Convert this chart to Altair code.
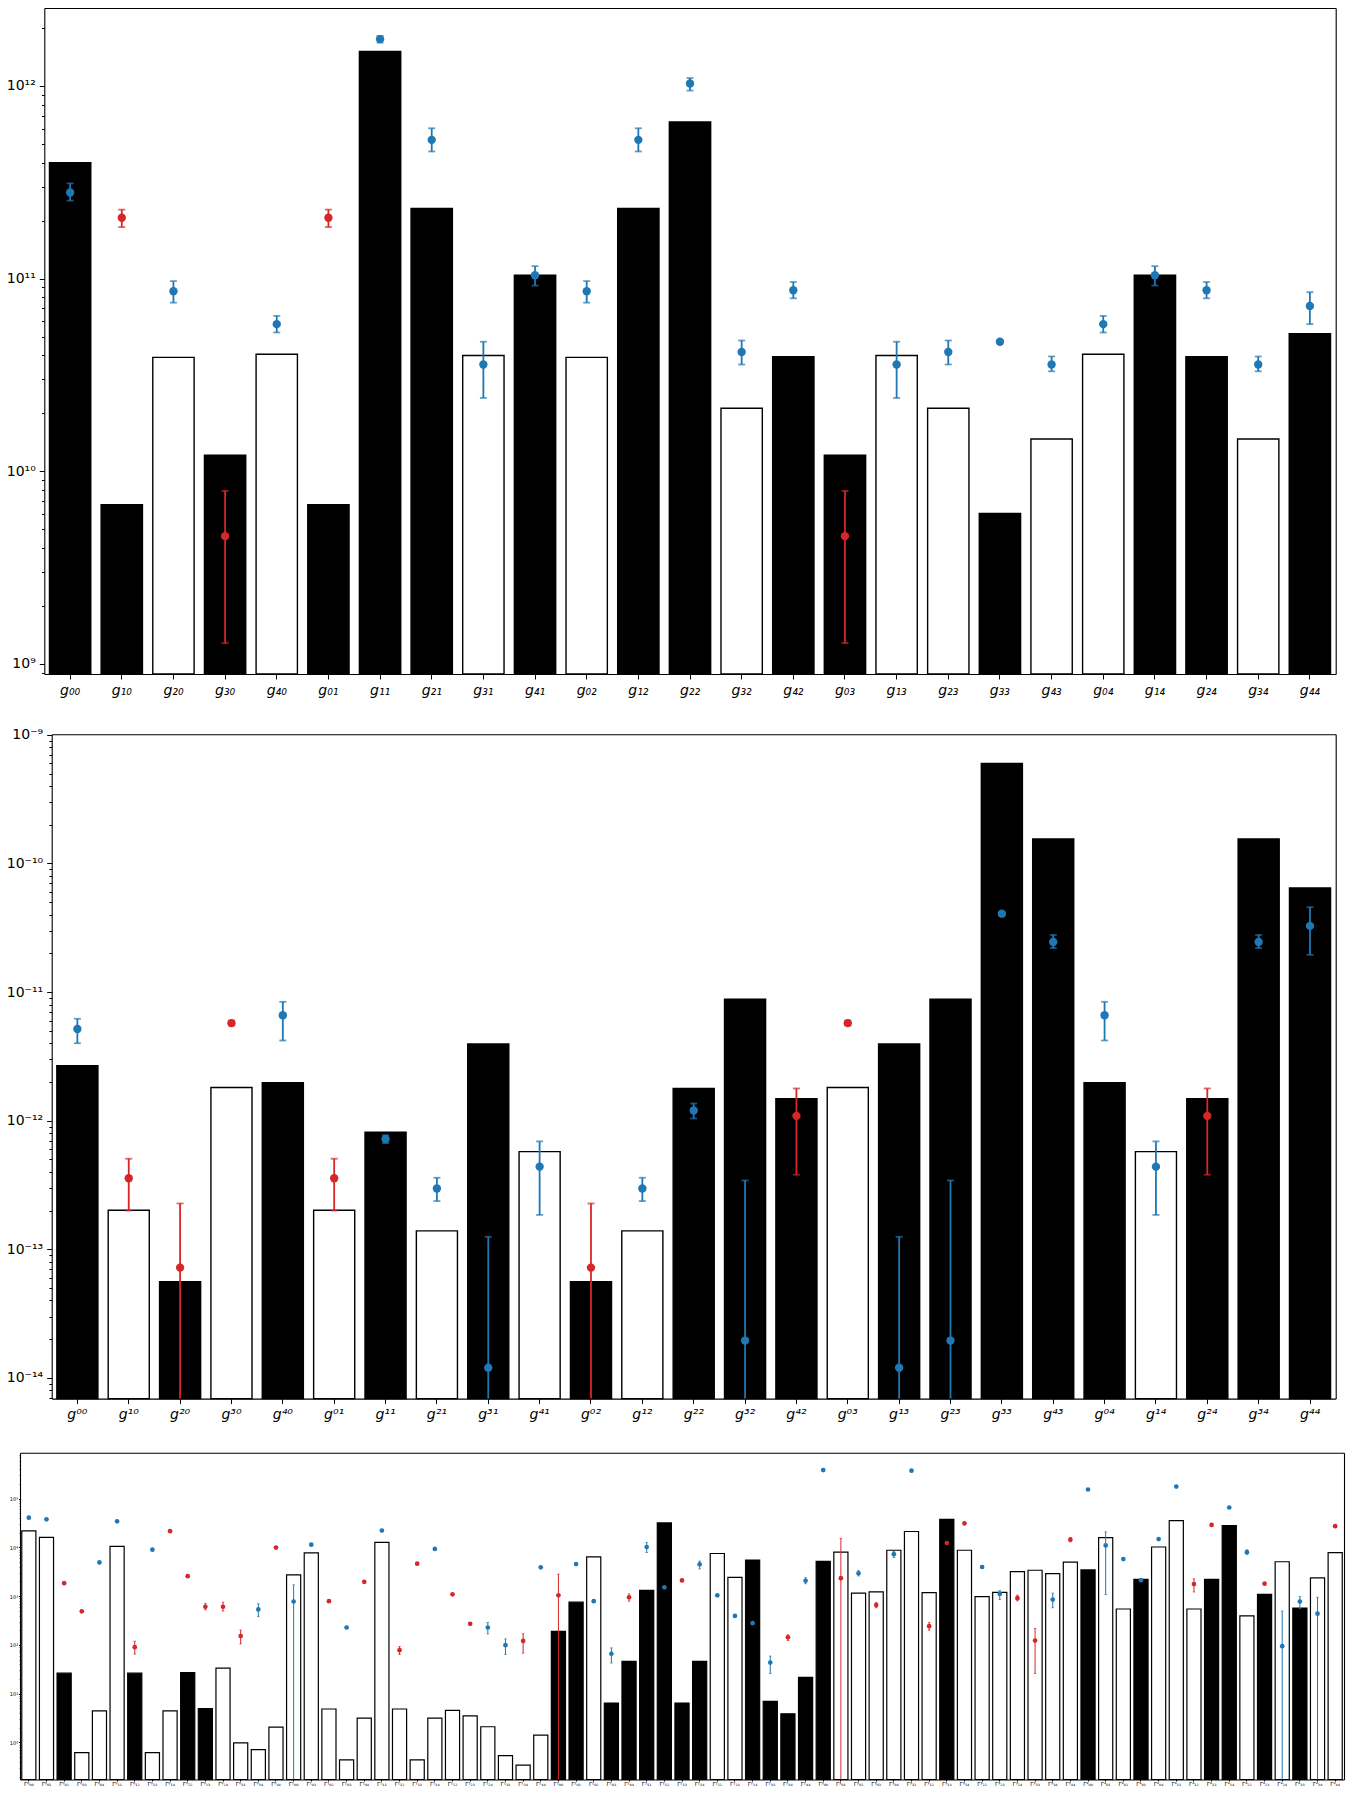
import altair as alt
import pandas as pd

# ---------------- Panel 1 : g_ij ----------------
p1_labels = ["g₀₀", "g₁₀", "g₂₀", "g₃₀", "g₄₀", "g₀₁", "g₁₁", "g₂₁", "g₃₁", "g₄₁",
             "g₀₂", "g₁₂", "g₂₂", "g₃₂", "g₄₂", "g₀₃", "g₁₃", "g₂₃", "g₃₃", "g₄₃",
             "g₀₄", "g₁₄", "g₂₄", "g₃₄", "g₄₄"]
p1_bar = [4.0e11, 6.7e9, 3.9e10, 1.21e10, 4.05e10, 6.7e9, 1.51e12, 2.31e11, 3.99e10, 1.04e11,
          3.9e10, 2.31e11, 6.5e11, 2.12e10, 3.93e10, 1.21e10, 3.99e10, 2.12e10, 6.03e9, 1.47e10,
          4.05e10, 1.04e11, 3.93e10, 1.47e10, 5.17e10]
p1_sign = ["+", "+", "-", "+", "-", "+", "+", "+", "-", "+",
           "-", "+", "+", "-", "+", "+", "-", "-", "+", "-",
           "-", "+", "+", "-", "+"]
p1_pt = [2.8e11, 2.07e11, 8.6e10, 4.6e9, 5.8e10, 2.07e11, 1.75e12, 5.25e11, 3.58e10, 1.04e11,
         8.6e10, 5.25e11, 1.03e12, 4.16e10, 8.7e10, 4.6e9, 3.58e10, 4.16e10, 4.7e10, 3.58e10,
         5.8e10, 1.04e11, 8.7e10, 3.58e10, 7.2e10]
p1_col = ["b", "r", "b", "r", "b", "r", "b", "b", "b", "b",
          "b", "b", "b", "b", "b", "r", "b", "b", "b", "b",
          "b", "b", "b", "b", "b"]
p1_lo = [2.54e11, 1.85e11, 7.5e10, 1.28e9, 5.25e10, 1.85e11, 1.68e12, 4.57e11, 2.4e10, 9.2e10,
         7.5e10, 4.57e11, 9.46e11, 3.58e10, 7.9e10, 1.28e9, 2.4e10, 3.58e10, None, 3.3e10,
         5.25e10, 9.2e10, 7.9e10, 3.3e10, 5.8e10]
p1_hi = [3.12e11, 2.28e11, 9.7e10, 7.9e9, 6.4e10, 2.28e11, 1.82e12, 6.03e11, 4.7e10, 1.16e11,
         9.7e10, 6.03e11, 1.1e12, 4.77e10, 9.6e10, 7.9e9, 4.7e10, 4.77e10, None, 3.94e10,
         6.4e10, 1.16e11, 9.6e10, 3.94e10, 8.5e10]
p1_domain = [8.85e8, 2.54e12]

# ---------------- Panel 2 : g^ij ----------------
p2_labels = ["g⁰⁰", "g¹⁰", "g²⁰", "g³⁰", "g⁴⁰", "g⁰¹", "g¹¹", "g²¹", "g³¹", "g⁴¹",
             "g⁰²", "g¹²", "g²²", "g³²", "g⁴²", "g⁰³", "g¹³", "g²³", "g³³", "g⁴³",
             "g⁰⁴", "g¹⁴", "g²⁴", "g³⁴", "g⁴⁴"]
p2_bar = [2.68e-12, 2.01e-13, 5.6e-14, 1.81e-12, 1.97e-12, 2.01e-13, 8.15e-13, 1.39e-13, 3.95e-12, 5.74e-13,
          5.6e-14, 1.39e-13, 1.78e-12, 8.8e-12, 1.48e-12, 1.81e-12, 3.95e-12, 8.8e-12, 5.98e-10, 1.55e-10,
          1.97e-12, 5.74e-13, 1.48e-12, 1.55e-10, 6.45e-11]
p2_sign = ["+", "-", "+", "-", "+", "-", "+", "-", "+", "-",
           "+", "-", "+", "+", "+", "-", "+", "+", "+", "+",
           "+", "-", "+", "+", "+"]
p2_pt = [5.16e-12, 3.57e-13, 7.2e-14, 5.73e-12, 6.6e-12, 3.57e-13, 7.2e-13, 2.97e-13, 1.2e-14, 4.39e-13,
         7.2e-14, 2.97e-13, 1.2e-12, 1.95e-14, 1.09e-12, 5.73e-12, 1.2e-14, 1.95e-14, 4.07e-11, 2.45e-11,
         6.6e-12, 4.39e-13, 1.09e-12, 2.45e-11, 3.27e-11]
p2_col = ["b", "r", "r", "r", "b", "r", "b", "b", "b", "b",
          "r", "b", "b", "b", "r", "r", "b", "b", "b", "b",
          "b", "b", "r", "b", "b"]
p2_lo = [4.0e-12, 2.0e-13, 1e-17, 5.5e-12, 4.2e-12, 2.0e-13, 6.7e-13, 2.37e-13, 1e-17, 1.85e-13,
         1e-17, 2.37e-13, 1.04e-12, 1e-17, 3.8e-13, 5.5e-12, 1e-17, 1e-17, 3.95e-11, 2.2e-11,
         4.2e-12, 1.85e-13, 3.8e-13, 2.2e-11, 1.95e-11]
p2_hi = [6.2e-12, 5.06e-13, 2.27e-13, 6.0e-12, 8.4e-12, 5.06e-13, 7.7e-13, 3.6e-13, 1.25e-13, 6.9e-13,
         2.27e-13, 3.6e-13, 1.36e-12, 3.43e-13, 1.78e-12, 6.0e-12, 1.25e-13, 3.43e-13, 4.2e-11, 2.78e-11,
         8.4e-12, 6.9e-13, 1.78e-12, 2.78e-11, 4.57e-11]
p2_domain = [6.9e-15, 1.01e-9]

# ---------------- Panel 3 : Gamma^i_jk ----------------
p3_labels = [
    "Γ⁰₀₀", "Γ⁰₀₁", "Γ⁰₀₂", "Γ⁰₀₃", "Γ⁰₀₄", "Γ⁰₁₁", "Γ⁰₁₂", "Γ⁰₁₃", "Γ⁰₁₄", "Γ⁰₂₂", "Γ⁰₂₃", "Γ⁰₂₄", "Γ⁰₃₃", "Γ⁰₃₄", "Γ⁰₄₄",
    "Γ¹₀₀", "Γ¹₀₁", "Γ¹₀₂", "Γ¹₀₃", "Γ¹₀₄", "Γ¹₁₁", "Γ¹₁₂", "Γ¹₁₃", "Γ¹₁₄", "Γ¹₂₂", "Γ¹₂₃", "Γ¹₂₄", "Γ¹₃₃", "Γ¹₃₄", "Γ¹₄₄",
    "Γ²₀₀", "Γ²₀₁", "Γ²₀₂", "Γ²₀₃", "Γ²₀₄", "Γ²₁₁", "Γ²₁₂", "Γ²₁₃", "Γ²₁₄", "Γ²₂₂", "Γ²₂₃", "Γ²₂₄", "Γ²₃₃", "Γ²₃₄", "Γ²₄₄",
    "Γ³₀₀", "Γ³₀₁", "Γ³₀₂", "Γ³₀₃", "Γ³₀₄", "Γ³₁₁", "Γ³₁₂", "Γ³₁₃", "Γ³₁₄", "Γ³₂₂", "Γ³₂₃", "Γ³₂₄", "Γ³₃₃", "Γ³₃₄", "Γ³₄₄",
    "Γ⁴₀₀", "Γ⁴₀₁", "Γ⁴₀₂", "Γ⁴₀₃", "Γ⁴₀₄", "Γ⁴₁₁", "Γ⁴₁₂", "Γ⁴₁₃", "Γ⁴₁₄", "Γ⁴₂₂", "Γ⁴₂₃", "Γ⁴₂₄", "Γ⁴₃₃", "Γ⁴₃₄", "Γ⁴₄₄",
]
p3_bar = [2.19e4, 1.6e4, 26.4, 0.62, 4.43, 1.05e4, 26.4, 0.62, 4.43, 27.2, 4.94, 33.4, 0.98, 0.71, 2.07,
          2.73e3, 7.73e3, 4.86, 0.44, 3.16, 1.27e4, 4.86, 0.44, 3.16, 4.57, 3.51, 2.1, 0.537, 0.343, 1.41,
          190, 754, 6.41e3, 6.44, 46, 1.32e3, 3.17e4, 6.44, 46, 7.5e3, 2.42e3, 5.5e3, 6.95, 3.86, 21.6,
          5.16e3, 7.98e3, 1.16e3, 1.22e3, 8.75e3, 2.12e4, 1.18e3, 3.76e4, 8.75e3, 982, 1.2e3, 3.19e3, 3.4e3, 2.91e3, 5.01e3,
          3.45e3, 1.58e4, 545, 2.2e3, 1.02e4, 3.53e4, 545, 2.2e3, 2.8e4, 393, 1.09e3, 5.08e3, 570, 2.38e3, 7.85e3]
p3_sign = ["-", "-", "+", "-", "-", "-", "+", "-", "-", "+", "+", "-", "-", "-", "-",
           "-", "-", "-", "-", "-", "-", "-", "-", "-", "-", "-", "-", "-", "-", "-",
           "+", "+", "-", "+", "+", "+", "+", "+", "+", "-", "-", "+", "+", "+", "+",
           "+", "-", "-", "-", "-", "-", "-", "+", "-", "-", "-", "-", "-", "-", "-",
           "+", "-", "-", "+", "-", "-", "-", "+", "+", "-", "+", "-", "+", "-", "-"]
p3_pt = [4.07e4, 3.76e4, 1.85e3, 489, 4.93e3, 3.43e4, 90, 9.0e3, 2.15e4, 2.57e3, 607, 607, 152, 535, 9.9e3,
         778, 1.14e4, 790, 228, 1.97e3, 2.22e4, 78, 4.63e3, 9.3e3, 1.09e3, 271, 228, 98.8, 121, 3.91e3,
         1.04e3, 4.56e3, 791, 65.9, 951, 1.02e4, 1.52e3, 2.1e3, 4.49e3, 1.04e3, 393, 279, 43.4, 143, 2.07e3,
         3.86e5, 2.34e3, 2.95e3, 656, 7.26e3, 3.74e5, 243, 1.23e4, 3.12e4, 3.96e3, 1.11e3, 908, 123, 853, 1.44e4,
         1.54e5, 1.1e4, 5.75e3, 2.13e3, 1.48e4, 1.77e5, 1.77e3, 2.89e4, 6.58e4, 7.98e3, 1.8e3, 94.2, 778, 438, 2.72e4]
p3_col = ["b", "b", "r", "r", "b", "b", "r", "b", "r", "r", "r", "r", "r", "b", "r",
          "b", "b", "r", "b", "r", "b", "r", "r", "b", "r", "r", "b", "b", "r", "b",
          "r", "b", "b", "b", "r", "b", "b", "r", "b", "b", "b", "b", "b", "r", "b",
          "b", "r", "b", "r", "b", "b", "r", "r", "r", "b", "b", "r", "r", "b", "r",
          "b", "b", "b", "b", "b", "b", "r", "r", "b", "b", "r", "b", "b", "b", "r"]
N = None
p3_lo = [N, N, N, N, N, N, 65, N, N, N, 525, 496, 105, 381, N,
         0.01, N, N, N, 1.85e3, N, 64, N, N, N, N, 168, 64, 68, N,
         0.01, N, N, 42.7, 791, 7.85e3, N, N, 3.61e3, N, N, N, 26, 123, 1.8e3,
         3.6e5, 0.01, 2.6e3, 580, 6.2e3, N, 200, N, N, N, 853, 800, 26, 580, 1.3e4,
         N, 1.08e3, N, N, N, N, 1.22e3, N, N, 7.2e3, N, 0.01, 561, 0.01, N]
p3_hi = [N, N, N, N, N, N, 119, N, N, N, 710, 754, 202, 698, N,
         1.71e3, N, N, N, 2.1e3, N, 93, N, N, N, N, 288, 133, 170, N,
         2.82e3, N, N, 87, 1.11e3, 1.27e4, N, N, 5.25e3, N, N, N, 59, 162, 2.4e3,
         4.15e5, 1.53e4, 3.35e3, 740, 8.3e3, N, 290, N, N, N, 1.3e3, 1.05e3, 218, 1.15e3, 1.6e4,
         N, 2.08e4, N, N, N, N, 2.27e3, N, N, 8.9e3, N, 496, 982, 951, N]
p3_domain = [0.174, 8.75e5]

BLUE = "#1f77b4"
RED = "#d62728"
FONT = "DejaVu Sans"
SUPMAP = str.maketrans("-0123456789", "⁻⁰¹²³⁴⁵⁶⁷⁸⁹")

# whole drawing area (page minus the 8px margins)
WT, HT = 1338, 1782


def log_ticks(dom):
    import math
    lo_e = math.floor(math.log10(dom[0]))
    hi_e = math.ceil(math.log10(dom[1]))
    vals, exps = [], []
    for e in range(lo_e, hi_e + 1):
        for k in range(1, 10):
            v = float(f"{k}e{e}")
            if dom[0] <= v <= dom[1]:
                vals.append(v)
                if k == 1:
                    exps.append(e)
    return vals, exps


MAJOR = "abs(log(datum.value)/LN10 - round(log(datum.value)/LN10)) < 0.01"


def label_expr(exps):
    s = ""
    for e in exps:
        s += f"round(log(datum.value)/LN10) == {e} ? '10{str(e).translate(SUPMAP)}' : "
    s += "''"
    return f"({MAJOR}) ? ({s}) : ''"


def panel(labels, bar, sign, pt, col, lo, hi, dom, box, fs, yfs, italic,
          msize, lw, capw, bar_sw, tmaj, tmin, pad):
    left, right, top, bottom = box
    df = pd.DataFrame({"lab": labels, "bar": bar, "sign": sign, "pt": pt,
                       "col": col, "lo": lo, "hi": hi})
    df["base"] = dom[0]
    vals, exps = log_ticks(dom)
    common = dict(title=None, grid=False, domainColor="black", domainWidth=1.1)
    yaxis = alt.Axis(orient="left", offset=-left, values=vals, labelExpr=label_expr(exps),
                     tickSize={"condition": {"test": MAJOR, "value": tmaj}, "value": tmin},
                     labelFontSize=yfs, labelFont=FONT, labelColor="black",
                     tickColor="black", labelPadding=pad,
                     labelFlush=False, labelOverlap=False, labelBound=False, **common)
    yaxis_r = alt.Axis(orient="right", offset=right - WT, labels=False, ticks=False, **common)
    xaxis = alt.Axis(orient="bottom", offset=bottom - HT, labelAngle=0, labelFontSize=fs,
                     labelFont=FONT, labelFontStyle="italic" if italic else "normal",
                     labelColor="black", tickColor="black", tickSize=tmaj,
                     labelPadding=pad, labelOverlap=False, **common)
    xaxis_t = alt.Axis(orient="top", offset=-top, labels=False, ticks=False, **common)
    xs = alt.Scale(range=[left, right], paddingInner=0.2, paddingOuter=0.1)
    ys = alt.Scale(type="log", domain=dom, range=[bottom, top], clamp=True)

    def X(ax):
        return alt.X("lab:N", sort=labels, scale=xs, axis=ax)

    def Y(f, ax):
        return alt.Y(f"{f}:Q", scale=ys, axis=ax, stack=None)

    color = alt.Color("col:N", scale=alt.Scale(domain=["b", "r"], range=[BLUE, RED]), legend=None)
    base = alt.Chart(df)
    bars = base.mark_bar(stroke="black", strokeWidth=bar_sw).encode(
        x=X(xaxis), y=Y("bar", yaxis), y2="base:Q",
        fill=alt.Fill("sign:N", scale=alt.Scale(domain=["+", "-"], range=["black", "white"]), legend=None))
    err = base.transform_filter("isValid(datum.lo)").mark_rule(strokeWidth=lw).encode(
        x=X(None), y=Y("lo", None), y2="hi:Q", color=color)
    cap_lo = base.transform_filter(f"isValid(datum.lo) && datum.lo >= {dom[0]}").mark_tick(
        size=capw, thickness=lw).encode(x=X(None), y=Y("lo", None), color=color)
    cap_hi = base.transform_filter("isValid(datum.hi)").mark_tick(
        size=capw, thickness=lw).encode(x=X(None), y=Y("hi", None), color=color)
    pts = base.mark_circle(size=msize, opacity=1).encode(
        x=X(xaxis_t), y=Y("pt", yaxis_r), color=color)
    return alt.layer(bars, err, cap_lo, cap_hi, pts).resolve_axis(x="independent", y="independent")


# boxes: (left, right, top, bottom) in px inside the drawing area
c1 = panel(p1_labels, p1_bar, p1_sign, p1_pt, p1_col, p1_lo, p1_hi, p1_domain,
           (36.3, 1327.7, 0, 666), 14, 14, True, 70, 1.8, 7, 1.4, 5, 2.8, 4)
c2 = panel(p2_labels, p2_bar, p2_sign, p2_pt, p2_col, p2_lo, p2_hi, p2_domain,
           (43.7, 1327.7, 726.3, 1390.6), 14, 14, True, 70, 1.8, 7, 1.4, 5, 2.8, 4)
c3 = panel(p3_labels, p3_bar, p3_sign, p3_pt, p3_col, p3_lo, p3_hi, p3_domain,
           (12, 1336, 1444.7, 1771.5), 5.5, 5, False, 22, 1.0, 2.5, 1.2, 1.5, 0.8, 0.8)

chart = alt.layer(c1, c2, c3).resolve_scale(
    x="independent", y="independent"
).resolve_axis(
    x="independent", y="independent"
).properties(
    width=WT, height=HT,
    autosize=alt.AutoSizeParams(type="none"),
    padding=0,
    background="white",
).configure_view(strokeWidth=0)

chart.save("out.html", embed_options={"renderer": "svg", "actions": False})
